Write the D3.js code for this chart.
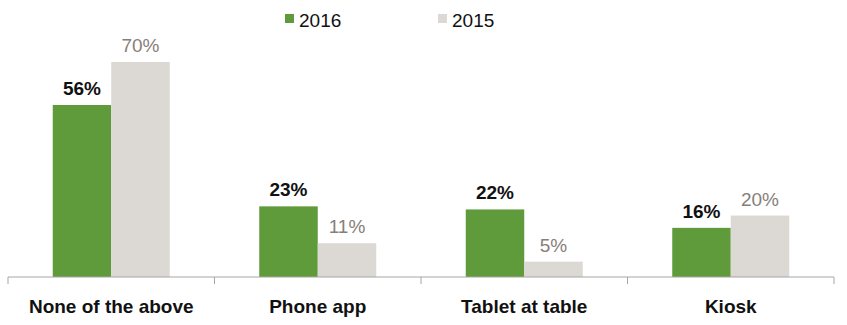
<!DOCTYPE html>
<html>
<head>
<meta charset="utf-8">
<script src="https://cdn.jsdelivr.net/npm/d3@7"></script>
<style>
  html, body { margin: 0; padding: 0; background: #fff; }
  svg { display: block; font-family: "Liberation Sans", Arial, sans-serif; }
</style>
</head>
<body>
<svg id="chart" width="847" height="325"></svg>
<script>
// Ordering-method usage by year
const categories = ["None of the above", "Phone app", "Tablet at table", "Kiosk"];
const seriesNames = ["2016", "2015"];
const values2016 = [56, 23, 22, 16];
const values2015 = [70, 11, 5, 20];
const colors = { "2016": "#5f9a3b", "2015": "#dcd8d4" };
const labelColors = { "2016": "#111111", "2015": "#877e79" };

const svg = d3.select("#chart");
const left = 8, right = 834, baseline = 277;

const x = d3.scaleBand().domain(categories).range([left, right]).paddingInner(0).paddingOuter(0);
const inner = d3.scaleBand().domain(seriesNames).range([0, x.bandwidth()]).paddingInner(0).paddingOuter(0.765);
const y = d3.scaleLinear().domain([0, 70]).range([baseline, 62]);

const rows = categories.map((c, i) => ({ cat: c, vals: { "2016": values2016[i], "2015": values2015[i] } }));

const groups = svg.selectAll("g.cat").data(rows).join("g")
  .attr("class", "cat")
  .attr("transform", d => `translate(${x(d.cat)},0)`);

groups.selectAll("rect").data(d => seriesNames.map(s => ({ s, v: d.vals[s] }))).join("rect")
  .attr("x", d => inner(d.s))
  .attr("width", inner.bandwidth())
  .attr("y", d => y(d.v))
  .attr("height", d => baseline - y(d.v))
  .attr("fill", d => colors[d.s]);

groups.selectAll("text.val").data(d => seriesNames.map(s => ({ s, v: d.vals[s] }))).join("text")
  .attr("class", "val")
  .attr("x", d => inner(d.s) + inner.bandwidth() / 2)
  .attr("y", d => y(d.v) - 10)
  .attr("text-anchor", "middle")
  .attr("font-size", 19)
  .attr("font-weight", d => d.s === "2016" ? "bold" : "normal")
  .attr("fill", d => labelColors[d.s])
  .text(d => d.v + "%");

// Category axis
const axis = d3.axisBottom(x).tickSize(0).tickPadding(0).tickFormat(d => d);
const ax = svg.append("g").attr("transform", `translate(0,${baseline})`).call(axis);
ax.select(".domain").attr("stroke", "#a6a6a6").attr("d", `M${left},0H${right}`);
ax.selectAll(".tick text")
  .attr("y", 36)
  .attr("dy", 0)
  .attr("font-size", 19)
  .attr("font-weight", "bold")
  .attr("font-family", "Liberation Sans, Arial, sans-serif")
  .attr("fill", "#111");
// Boundary tick marks between categories
const bounds = categories.map(c => x(c)).concat([right]);
ax.selectAll("line.bound").data(bounds).join("line")
  .attr("class", "bound")
  .attr("x1", d => d).attr("x2", d => d)
  .attr("y1", 0).attr("y2", 7)
  .attr("stroke", "#a6a6a6");

// Legend
const legendX = { "2016": 285, "2015": 438 };
const lg = svg.selectAll("g.legend").data(seriesNames).join("g")
  .attr("class", "legend")
  .attr("transform", d => `translate(${legendX[d]},0)`);
lg.append("rect").attr("x", 0).attr("y", 14).attr("width", 9).attr("height", 9)
  .attr("fill", d => colors[d]);
lg.append("text").attr("x", 14).attr("y", 27)
  .attr("font-size", 19).attr("fill", "#111").text(d => d);
</script>
</body>
</html>
